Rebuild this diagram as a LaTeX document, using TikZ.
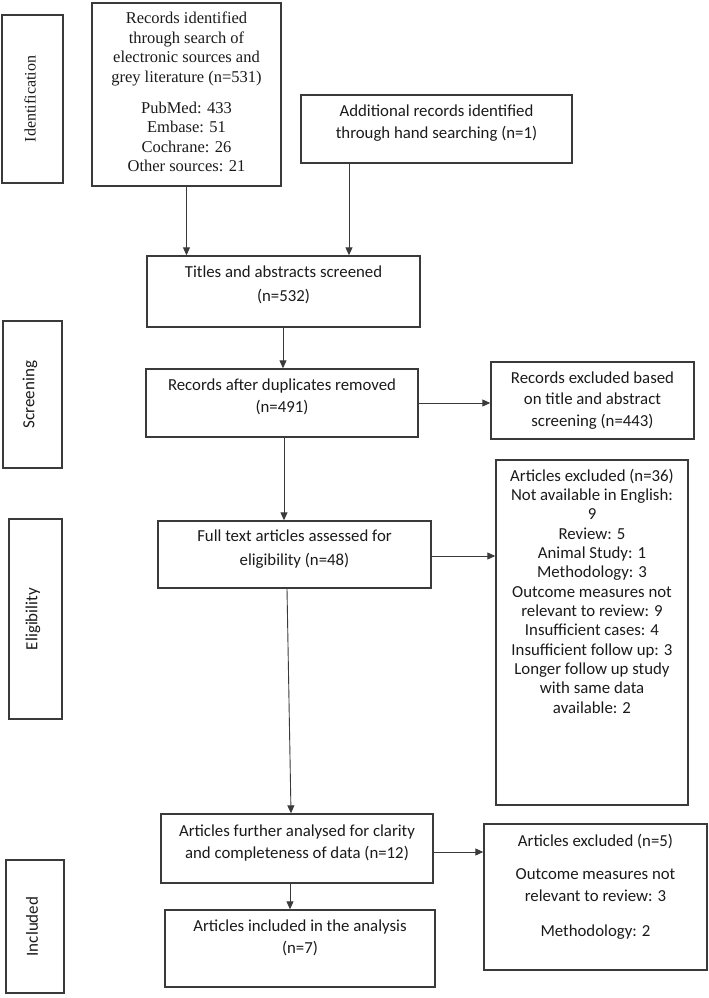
\documentclass[tikz,border=0pt]{standalone}
\usepackage{fontspec}
\setmainfont{Carlito}
\newfontfamily\timesf{Liberation Serif}
\usetikzlibrary{arrows.meta}
\definecolor{boxc}{HTML}{3A3A3A}
\definecolor{linec}{HTML}{3A3A3A}
\definecolor{txtc}{HTML}{1A1A1A}
\begin{document}
\begin{tikzpicture}[x=1pt,y=-1pt,
  box/.style={draw=boxc, line width=1.4pt, inner sep=0pt},
  txt/.style={align=center, text=txtc, inner sep=0pt, font=\fontsize{16.8}{22}\selectfont},
  vlab/.style={rotate=90, text=txtc, inner sep=0pt, font=\fontsize{17}{19}\selectfont},
  arr/.style={draw=linec, line width=0.9pt, -{Triangle[length=8pt,width=7pt]}}]
\useasboundingbox (0,0) rectangle (709,998);
% stage labels
\node[box, minimum width=61pt, minimum height=168pt] (idf) at (32.5,99) {};
\node[vlab, font=\timesf\fontsize{16}{19}\selectfont] (idft) at (30,99) {Identification};
\node[box, minimum width=59pt, minimum height=147pt] (scr) at (32.5,394.5) {};
\node[vlab] (scrt) at (30,394.5) {Screening};
\node[box, minimum width=53pt, minimum height=200pt] (eli) at (35.5,619) {};
\node[vlab] (elit) at (33,619) {Eligibility};
\node[box, minimum width=58pt, minimum height=133pt] (incl) at (35,926.5) {};
\node[vlab] (inclt) at (32,926.5) {Included};
% boxes
\node[box, minimum width=189pt, minimum height=183pt] (rec) at (186.5,94.5) {};
\node[txt, font=\timesf\fontsize{16.5}{19.5}\selectfont] (rect) at (186.5,92)
  {Records identified\\through search of\\electronic sources and\\grey literature (n=531)\\[11.5pt]PubMed: 433\\Embase: 51\\Cochrane: 26\\Other sources: 21};
\node[box, minimum width=271pt, minimum height=68pt] (add) at (436.5,129) {};
\node[txt] (addt) at (436.5,123) {Additional records identified\\through hand searching (n=1)};
\node[box, minimum width=273pt, minimum height=71pt] (tit) at (283.5,291.5) {};
\node[txt, font=\fontsize{16.8}{24}\selectfont] (titt) at (283.5,285) {Titles and abstracts screened\\(n=532)};
\node[box, minimum width=272pt, minimum height=68pt] (dup) at (282,403) {};
\node[txt] (dupt) at (282,397) {Records after duplicates removed\\(n=491)};
\node[box, minimum width=203pt, minimum height=77pt] (exc1) at (592.5,400.5) {};
\node[txt, font=\fontsize{16.8}{21.5}\selectfont] (exc1t) at (592.5,400.5) {Records excluded based\\on title and abstract\\screening (n=443)};
\node[box, minimum width=273pt, minimum height=67pt] (full) at (294.5,554.5) {};
\node[txt, font=\fontsize{16.8}{24}\selectfont] (fullt) at (294.5,549) {Full text articles assessed for\\eligibility (n=48)};
\node[box, minimum width=192pt, minimum height=345pt] (exc36) at (592,632.5) {};
\node[txt, font=\fontsize{16.8}{19.33}\selectfont] (exc36t) at (592,591)
  {Articles excluded (n=36)\\Not available in English:\\9\\Review: 5\\Animal Study: 1\\Methodology: 3\\Outcome measures not\\relevant to review: 9\\Insufficient cases: 4\\Insufficient follow up: 3\\Longer follow up study\\with same data\\available: 2};
\node[box, minimum width=272pt, minimum height=69pt] (fur) at (297,848.5) {};
\node[txt] (furt) at (297,843) {Articles further analysed for clarity\\and completeness of data (n=12)};
\node[box, minimum width=270pt, minimum height=77pt] (inc) at (300,948.5) {};
\node[txt] (inct) at (300,938) {Articles included in the analysis\\(n=7)};
\node[box, minimum width=223pt, minimum height=146pt] (exc5) at (595.5,897) {};
\node[txt] (exc5t) at (595.5,887) {Articles excluded (n=5)\\[11pt]Outcome measures not\\relevant to review: 3\\[13pt]Methodology: 2};
% connectors
\draw[arr] (rec.south) -- (rec.south |- tit.north);
\draw[arr] (add.south -| 349,0) -- (tit.north -| 349,0);
\draw[arr] (tit.south -| 283,0) -- (dup.north -| 283,0);
\draw[arr] (dup.east |- 0,403) -- (exc1.west |- 0,403);
\draw[arr] (dup.south -| 284,0) -- (full.north -| 284,0);
\draw[arr] (full.east |- 0,556) -- (exc36.west |- 0,556);
\draw[arr] (full.south -| 287,0) -- (fur.north -| 291,0);
\draw[arr] (fur.east |- 0,852) -- (exc5.west |- 0,852);
\draw[arr] (fur.south -| 290,0) -- (inc.north -| 290,0);
\end{tikzpicture}
\end{document}
